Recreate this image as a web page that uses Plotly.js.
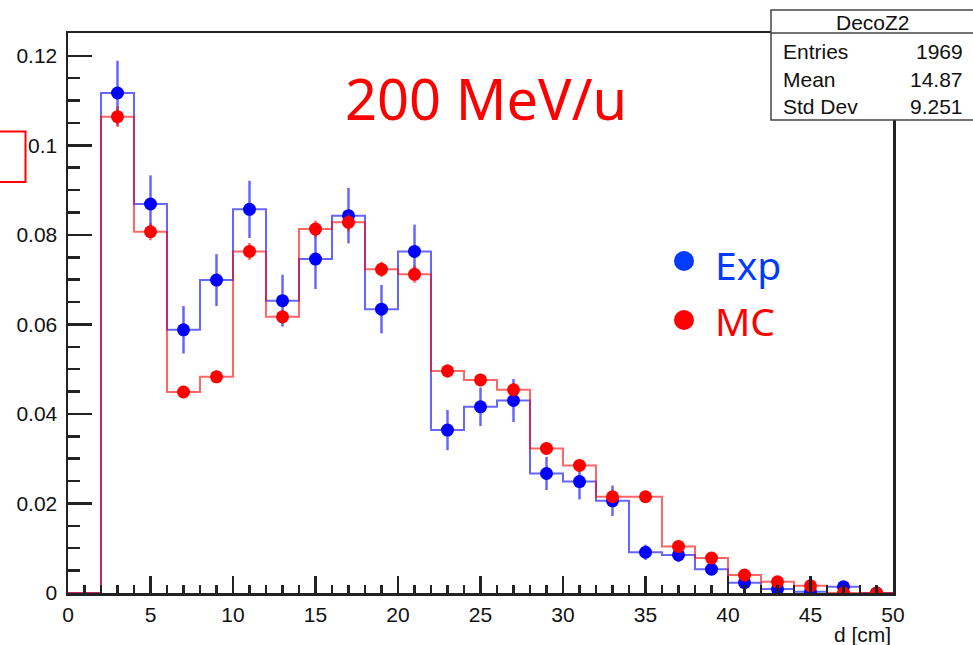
<!DOCTYPE html>
<html>
<head>
<meta charset="utf-8">
<script src="https://cdn.plot.ly/plotly-3.0.1.min.js"></script>
<style>html,body{margin:0;padding:0;background:#fff;}#chart{width:973px;height:645px;}</style>
</head>
<body>
<div id="chart"></div>
<script>
// Bin centres (bin width 2 cm, 0..50)
const binCenters = [1,3,5,7,9,11,13,15,17,19,21,23,25,27,29,31,33,35,37,39,41,43,45,47,49];
// Experimental (blue) normalised contents and errors
const expValues = [0, 0.1117, 0.0869, 0.0588, 0.0699, 0.0857, 0.0653, 0.0746, 0.0843, 0.0634, 0.0763, 0.0364, 0.0416, 0.0430, 0.0267, 0.0249, 0.0206, 0.0091, 0.0085, 0.0053, 0.0023, 0.0009, 0.0003, 0.0014, 0];
const expErrors = [0, 0.0072, 0.0064, 0.0053, 0.0058, 0.0064, 0.0058, 0.0067, 0.0062, 0.0054, 0.0060, 0.0045, 0.0043, 0.0048, 0.0037, 0.0040, 0.0034, 0.0017, 0.0016, 0.0013, 0.0009, 0.0005, 0.0003, 0.0007, 0];
// Monte Carlo (red) normalised contents and errors
const mcValues = [0, 0.1064, 0.0807, 0.0449, 0.0483, 0.0763, 0.0617, 0.0813, 0.0828, 0.0723, 0.0712, 0.0496, 0.0476, 0.0454, 0.0323, 0.0285, 0.0215, 0.0215, 0.0104, 0.0078, 0.0040, 0.0025, 0.0016, 0, 0];
const mcErrors = [0, 0.0023, 0.0019, 0.0013, 0.0014, 0.0019, 0.0015, 0.0019, 0.0020, 0.0017, 0.0019, 0.0015, 0.0014, 0.0015, 0.0012, 0.0011, 0.0010, 0.0010, 0.0007, 0.0006, 0.0005, 0.0004, 0.0003, 0, 0];
const binWidth = 2;
const xTickLabels = ["0","5","10","15","20","25","30","35","40","45","50"];
const statsLabels = ["Entries","Mean","Std Dev"];
const statsValues = ["1969","14.87","9.251"];

const BLUE = 'rgb(0,0,255)', RED = 'rgb(255,0,0)';
const BLUE_T = 'rgba(0,0,255,0.6)', RED_T = 'rgba(255,0,0,0.6)';

function stepTrace(vals, color) {
  const xs = binCenters.map(c => c - binWidth/2);
  xs.push(binCenters[binCenters.length-1] + binWidth/2);
  const ys = vals.slice();
  ys.push(vals[vals.length-1]);
  return {x: xs, y: ys, type: 'scatter', mode: 'lines', line: {shape: 'hv', color: color, width: 2}, hoverinfo: 'skip', showlegend: false};
}
function pointTrace(vals, errs, color, ecolor) {
  return {x: binCenters.slice(1), y: vals.slice(1), type: 'scatter', mode: 'markers',
    marker: {color: color, size: 13}, showlegend: false,
    error_y: {type: 'data', array: errs.slice(1), visible: true, color: ecolor, thickness: 2.5, width: 0}};
}

const data = [
  stepTrace(expValues, BLUE_T),
  pointTrace(expValues, expErrors, BLUE, BLUE_T),
  stepTrace(mcValues, RED_T),
  pointTrace(mcValues, mcErrors, RED, RED_T)
];

// pixel helpers for decorations
const L = 68, R = 893, T = 33, B = 593;
const px = x => (x - L) / (R - L);
const py = y => (B - y) / (B - T);

const tickFont = {family: 'Liberation Sans, Arial, sans-serif', size: 21, color: '#111'};
const annotations = [
  {xref: 'paper', yref: 'paper', x: px(343), y: py(98), xanchor: 'left', yanchor: 'middle', showarrow: false,
   text: '200 MeV/u', font: {family: 'Noto Sans, sans-serif', size: 56, color: RED}},
  {xref: 'paper', yref: 'paper', x: px(713), y: py(264), xanchor: 'left', yanchor: 'middle', showarrow: false,
   text: 'Exp', font: {family: 'Noto Sans, sans-serif', size: 39, color: 'rgb(0,60,255)'}},
  {xref: 'paper', yref: 'paper', x: px(713), y: py(320), xanchor: 'left', yanchor: 'middle', showarrow: false,
   text: 'MC', font: {family: 'Noto Sans, sans-serif', size: 39, color: RED}},
  {xref: 'paper', yref: 'paper', x: 1, y: py(634), xanchor: 'right', yanchor: 'middle', showarrow: false,
   text: 'd [cm]', font: tickFont},
  {xref: 'paper', yref: 'paper', x: px(873), y: py(22), xanchor: 'center', yanchor: 'middle', showarrow: false,
   text: 'DecoZ2', font: tickFont}
];
statsLabels.forEach((lab, i) => {
  const yy = 52 + i * 27.5;
  annotations.push({xref: 'paper', yref: 'paper', x: px(781), y: py(yy), xanchor: 'left', yanchor: 'middle', showarrow: false, text: lab, font: tickFont});
  annotations.push({xref: 'paper', yref: 'paper', x: px(965), y: py(yy), xanchor: 'right', yanchor: 'middle', showarrow: false, text: statsValues[i], font: tickFont});
});

const shapes = [
  // stats box
  {type: 'rect', xref: 'paper', yref: 'paper', x0: px(771), x1: px(990), y0: py(120), y1: py(10),
   line: {color: '#444', width: 1.5}, fillcolor: 'white', layer: 'above'},
  {type: 'line', xref: 'paper', yref: 'paper', x0: px(771), x1: px(990), y0: py(33), y1: py(33),
   line: {color: '#444', width: 1.5}, layer: 'above'},
  // legend dots
  {type: 'circle', xref: 'paper', yref: 'paper', x0: px(674), x1: px(694), y0: py(251), y1: py(271),
   fillcolor: 'rgb(0,60,255)', line: {width: 0}, layer: 'above'},
  {type: 'circle', xref: 'paper', yref: 'paper', x0: px(674), x1: px(694), y0: py(310), y1: py(330),
   fillcolor: RED, line: {width: 0}, layer: 'above'},
  // partial red box at left edge
  {type: 'rect', xref: 'paper', yref: 'paper', x0: px(-10), x1: px(25.5), y0: py(182), y1: py(131.5),
   line: {color: RED, width: 2}, fillcolor: 'rgba(0,0,0,0)', layer: 'above'}
];

const layout = {
  width: 973, height: 645,
  margin: {l: L, r: 973 - R, t: T, b: 645 - B, pad: 0},
  paper_bgcolor: 'white', plot_bgcolor: 'white',
  showlegend: false,
  xaxis: {range: [0, 50], tickmode: 'array', tickvals: xTickLabels.map(Number), ticktext: xTickLabels,
    ticks: 'inside', ticklen: 17, tickwidth: 2.5, tickcolor: '#222',
    minor: {dtick: 1, ticks: 'inside', ticklen: 8, tickwidth: 2.5, tickcolor: '#222', showgrid: false},
    showline: true, mirror: true, linecolor: '#222', linewidth: 2.5, showgrid: false, zeroline: false,
    tickfont: tickFont, ticklabelstandoff: 1},
  yaxis: {range: [0, 0.1251], dtick: 0.02, tick0: 0,
    ticks: 'inside', ticklen: 24, tickwidth: 2.5, tickcolor: '#222',
    minor: {dtick: 0.005, ticks: 'inside', ticklen: 12, tickwidth: 2.5, tickcolor: '#222', showgrid: false},
    showline: true, mirror: true, linecolor: '#222', linewidth: 2.5, showgrid: false, zeroline: false,
    tickfont: tickFont, ticklabelstandoff: 4},
  annotations: annotations,
  shapes: shapes
};

Plotly.newPlot('chart', data, layout, {staticPlot: true, displayModeBar: false});
</script>
</body>
</html>
